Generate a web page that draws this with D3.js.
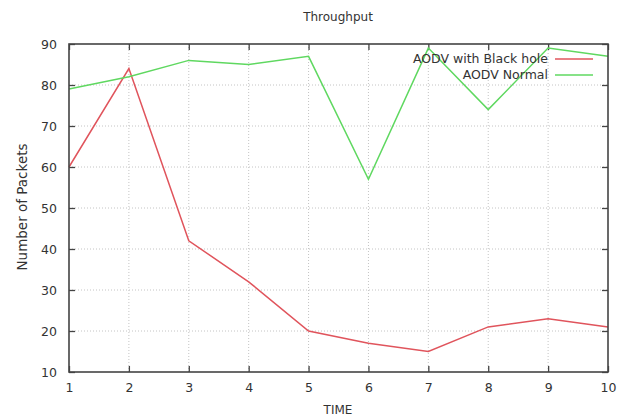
<!DOCTYPE html>
<html><head><meta charset="utf-8">
<script src="https://cdn.jsdelivr.net/npm/d3@7"></script>
<style>body{margin:0;background:#fff}svg{display:block}text{font-family:"DejaVu Sans",sans-serif;fill:#333}</style>
</head><body><svg id="c" width="625" height="419"></svg>
<script>
const times = [1,2,3,4,5,6,7,8,9,10];
const blackHole = [60,84,42,32,20,17,15,21,23,21];
const normal = [79,82,86,85,87,57,89,74,89,87];
const xTicks = [1,2,3,4,5,6,7,8,9,10];
const yTicks = [10,20,30,40,50,60,70,80,90];
const seriesNames = ["AODV with Black hole","AODV Normal"];
const colors = ["#e0545c","#5fd860"];

const svg = d3.select("#c");
const L=69, R=608, T=44, B=372;
const x = d3.scaleLinear().domain([1,10]).range([L,R]);
const y = d3.scaleLinear().domain([10,90]).range([B,T]);

// grid
const g = svg.append("g");
g.selectAll(".gx").data(xTicks.slice(1,-1)).join("line")
 .attr("x1",d=>x(d)).attr("x2",d=>x(d)).attr("y1",T).attr("y2",B)
 .attr("stroke","#c4c4c4").attr("stroke-width",1).attr("stroke-dasharray","1,2");
g.selectAll(".gy").data(yTicks.slice(1,-1)).join("line")
 .attr("x1",L).attr("x2",R).attr("y1",d=>y(d)).attr("y2",d=>y(d))
 .attr("stroke","#c4c4c4").attr("stroke-width",1).attr("stroke-dasharray","1,2");

// axes
const ax = (sel)=>sel.call(s=>s.select(".domain").remove()).call(s=>s.selectAll("line").attr("stroke","#444").attr("stroke-width",1.3));
svg.append("g").attr("transform",`translate(0,${B})`)
 .call(d3.axisBottom(x).tickValues(xTicks).tickSize(-6).tickPadding(11).tickFormat(d3.format("d")))
 .call(ax).selectAll("text").attr("font-size",12.5).attr("fill","#333").attr("font-family","DejaVu Sans");
svg.append("g").attr("transform",`translate(0,${T})`)
 .call(d3.axisTop(x).tickValues(xTicks).tickSize(-6).tickFormat(""))
 .call(ax);
svg.append("g").attr("transform",`translate(${L},0)`)
 .call(d3.axisLeft(y).tickValues(yTicks).tickSize(-6).tickPadding(12))
 .call(ax).selectAll("text").attr("font-size",12.5).attr("fill","#333").attr("font-family","DejaVu Sans");
svg.append("g").attr("transform",`translate(${R},0)`)
 .call(d3.axisRight(y).tickValues(yTicks).tickSize(-6).tickFormat(""))
 .call(ax);

// lines
const line = d3.line().x((d,i)=>x(times[i])).y(d=>y(d));
[blackHole, normal].forEach((s,i)=>{
  svg.append("path").datum(s).attr("d",line).attr("fill","none")
   .attr("stroke",colors[i]).attr("stroke-width",1.5);
});

// frame
svg.append("rect").attr("x",L).attr("y",T).attr("width",R-L).attr("height",B-T)
 .attr("fill","none").attr("stroke","#444").attr("stroke-width",1.6);

// legend
seriesNames.forEach((n,i)=>{
  const ly = 59 + i*16;
  svg.append("text").attr("x",548).attr("y",ly).attr("dy","0.35em").attr("text-anchor","end")
   .attr("font-size",12.5).text(n);
  svg.append("line").attr("x1",555).attr("x2",593).attr("y1",ly).attr("y2",ly)
   .attr("stroke",colors[i]).attr("stroke-width",1.5);
});

// titles
svg.append("text").attr("x",338).attr("y",21).attr("text-anchor","middle").attr("font-size",12).text("Throughput");
svg.append("text").attr("x",338).attr("y",414).attr("text-anchor","middle").attr("font-size",12).text("TIME");
svg.append("text").attr("transform","translate(27,207) rotate(-90)").attr("text-anchor","middle").attr("font-size",13.5).text("Number of Packets");
</script></body></html>
